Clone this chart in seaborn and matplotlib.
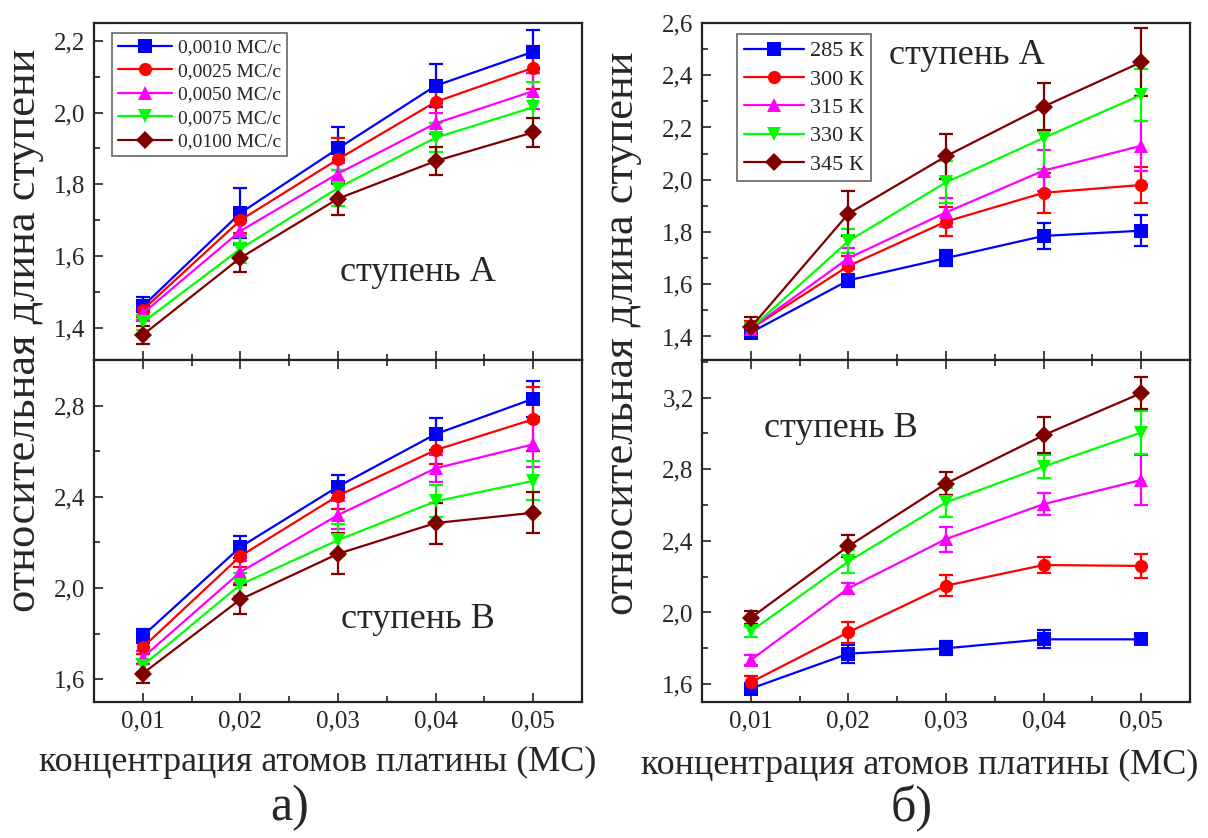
import numpy as np
import pandas as pd
import matplotlib
matplotlib.use("Agg")
import matplotlib.pyplot as plt
from matplotlib.ticker import MultipleLocator, FuncFormatter
import seaborn as sns

# Pt concentration, ML
conc = [0.01, 0.02, 0.03, 0.04, 0.05]

# (a) deposition rate series
rate_labels = ["0,0010 МС/с", "0,0025 МС/с", "0,0050 МС/с", "0,0075 МС/с", "0,0100 МС/с"]
rate_A = [
    [1.46, 1.72, 1.90, 2.075, 2.17],
    [1.45, 1.70, 1.87, 2.03, 2.125],
    [1.44, 1.67, 1.83, 1.97, 2.06],
    [1.415, 1.62, 1.79, 1.93, 2.015],
    [1.38, 1.595, 1.76, 1.865, 1.945],
]
rate_A_err = [
    [0.025, 0.07, 0.06, 0.06, 0.06],
    [0.02, 0.035, 0.06, 0.06, 0.06],
    [0.02, 0.04, 0.03, 0.03, 0.05],
    [0.02, 0.04, 0.05, 0.04, 0.07],
    [0.025, 0.04, 0.045, 0.04, 0.04],
]
rate_B = [
    [1.79, 2.18, 2.445, 2.675, 2.83],
    [1.74, 2.14, 2.405, 2.605, 2.74],
    [1.695, 2.07, 2.32, 2.525, 2.63],
    [1.66, 2.015, 2.21, 2.38, 2.47],
    [1.625, 1.95, 2.15, 2.285, 2.33],
]
rate_B_err = [
    [0.03, 0.05, 0.05, 0.07, 0.08],
    [0.03, 0.05, 0.06, 0.06, 0.14],
    [0.03, 0.05, 0.06, 0.06, 0.10],
    [0.03, 0.05, 0.07, 0.07, 0.085],
    [0.04, 0.065, 0.09, 0.09, 0.09],
]

# (б) temperature series
temp_labels = ["285 К", "300 К", "315 К", "330 К", "345 К"]
temp_A = [
    [1.415, 1.615, 1.70, 1.785, 1.805],
    [1.43, 1.67, 1.84, 1.95, 1.98],
    [1.43, 1.70, 1.875, 2.035, 2.13],
    [1.43, 1.765, 1.99, 2.16, 2.325],
    [1.435, 1.87, 2.09, 2.28, 2.45],
]
temp_A_err = [
    [0.015, 0.025, 0.03, 0.05, 0.06],
    [0.03, 0.04, 0.055, 0.077, 0.07],
    [0.02, 0.04, 0.055, 0.08, 0.095],
    [0.02, 0.047, 0.08, 0.12, 0.10],
    [0.04, 0.085, 0.087, 0.09, 0.13],
]
temp_B = [
    [1.575, 1.77, 1.80, 1.85, 1.85],
    [1.61, 1.89, 2.15, 2.265, 2.26],
    [1.735, 2.135, 2.41, 2.605, 2.74],
    [1.895, 2.285, 2.615, 2.815, 3.005],
    [1.97, 2.37, 2.72, 2.99, 3.225],
]
temp_B_err = [
    [0.02, 0.05, 0.04, 0.05, 0.01],
    [0.035, 0.058, 0.06, 0.047, 0.065],
    [0.03, 0.03, 0.07, 0.06, 0.14],
    [0.03, 0.065, 0.08, 0.065, 0.12],
    [0.037, 0.06, 0.065, 0.10, 0.088],
]

colors = ["#0000ff", "#ff0000", "#ff00ff", "#00ff00", "#800000"]
marker_list = ["s", "o", "^", "v", "D"]

sns.set_style("ticks")
plt.rcParams["font.family"] = ["Liberation Serif", "DejaVu Serif"]
plt.rcParams["axes.linewidth"] = 1.6
plt.rcParams["axes.edgecolor"] = "#222222"

fig = plt.figure(figsize=(12.08, 8.38), dpi=100)

L, W = 94 / 1208, 488 / 1208
R = 702 / 1208
top_b, top_h = 1 - 360 / 838, 337 / 838
bot_b, bot_h = 1 - 702 / 838, 342 / 838

ax_aA = fig.add_axes([L, top_b, W, top_h])
ax_aB = fig.add_axes([L, bot_b, W, bot_h])
ax_bA = fig.add_axes([R, top_b, W, top_h])
ax_bB = fig.add_axes([R, bot_b, W, bot_h])

comma = FuncFormatter(lambda v, p: f"{v:.1f}".replace(".", ","))
comma2 = FuncFormatter(lambda v, p: f"{v:.2f}".replace(".", ","))


def draw(ax, labels, vals, errs):
    rows = []
    for lab, ys in zip(labels, vals):
        for xv, yv in zip(conc, ys):
            rows.append({"x": xv, "y": yv, "series": lab})
    df = pd.DataFrame(rows)
    for lab, ys, es, c in zip(labels, vals, errs, colors):
        ax.errorbar(conc, ys, yerr=es, fmt="none", ecolor=c, elinewidth=1.6,
                    capsize=5, capthick=1.6, zorder=2)
    sns.lineplot(data=df, x="x", y="y", hue="series", style="series",
                 hue_order=labels, style_order=labels,
                 palette=colors, markers=marker_list, dashes=False,
                 markersize=9.5, markeredgewidth=0, linewidth=1.6,
                 ax=ax, zorder=3)
    ax.set_xlim(0.005, 0.055)
    ax.xaxis.set_major_locator(MultipleLocator(0.01))
    ax.xaxis.set_minor_locator(MultipleLocator(0.005))
    ax.xaxis.set_major_formatter(comma2)
    ax.yaxis.set_major_formatter(comma)
    ax.set_xlabel("")
    ax.set_ylabel("")
    ax.tick_params(which="both", direction="in", labelsize=18, color="#222222",
                   width=1.2)
    ax.tick_params(which="major", length=6.5, pad=6)
    ax.tick_params(which="minor", length=4)


draw(ax_aA, rate_labels, rate_A, rate_A_err)
draw(ax_aB, rate_labels, rate_B, rate_B_err)
draw(ax_bA, temp_labels, temp_A, temp_A_err)
draw(ax_bB, temp_labels, temp_B, temp_B_err)

for ax in (ax_aA, ax_bA):
    ax.tick_params(axis="x", which="both", labelbottom=False)
for ax in (ax_aB, ax_bB):
    ax.tick_params(axis="x", which="both", top=True)

ax_aA.set_ylim(1.31, 2.25)
ax_aA.yaxis.set_major_locator(MultipleLocator(0.2))
ax_aA.yaxis.set_minor_locator(MultipleLocator(0.1))
ax_aB.set_ylim(1.5, 3.0)
ax_aB.yaxis.set_major_locator(MultipleLocator(0.4))
ax_aB.yaxis.set_minor_locator(MultipleLocator(0.2))
ax_bA.set_ylim(1.31, 2.6)
ax_bA.yaxis.set_major_locator(MultipleLocator(0.2))
ax_bA.yaxis.set_minor_locator(MultipleLocator(0.1))
ax_bB.set_ylim(1.5, 3.41)
ax_bB.yaxis.set_major_locator(MultipleLocator(0.4))
ax_bB.yaxis.set_minor_locator(MultipleLocator(0.2))

# legends
for ax, anchor, fs, hl, sp in ((ax_aA, (0.037, 0.970), 14, 2.8, 0.3),
                               (ax_bA, (0.072, 0.967), 16, 2.7, 0.35)):
    h, l = ax.get_legend_handles_labels()
    leg = ax.legend(h, l, loc="upper left", bbox_to_anchor=anchor,
                    borderaxespad=0, fontsize=fs, handlelength=hl,
                    labelspacing=sp, handletextpad=0.3, borderpad=0.3,
                    fancybox=False, framealpha=1, edgecolor="#666666")
    leg.get_frame().set_linewidth(1.2)
for ax in (ax_aB, ax_bB):
    if ax.get_legend():
        ax.get_legend().remove()

# panel captions
cap_fs = 26
ax_aA.text(0.664, 0.261, "ступень А", transform=ax_aA.transAxes, fontsize=cap_fs,
           ha="center", va="center")
ax_aB.text(0.664, 0.24, "ступень В", transform=ax_aB.transAxes, fontsize=cap_fs,
           ha="center", va="center")
ax_bA.text(0.543, 0.905, "ступень А", transform=ax_bA.transAxes, fontsize=cap_fs,
           ha="center", va="center")
ax_bB.text(0.284, 0.80, "ступень В", transform=ax_bB.transAxes, fontsize=cap_fs,
           ha="center", va="center")

ylab = "относительная длина ступени"
xlab = "концентрация атомов платины (МС)"
fig.text(24 / 1208, 1 - 330 / 838, ylab, rotation=90, fontsize=32,
         ha="center", va="center")
fig.text(622 / 1208, 1 - 333 / 838, ylab, rotation=90, fontsize=32,
         ha="center", va="center")
fig.text(318 / 1208, 1 - 762 / 838, xlab, fontsize=26, ha="center", va="center")
fig.text(920 / 1208, 1 - 765 / 838, xlab, fontsize=26, ha="center", va="center")
fig.text(290 / 1208, 1 - 808 / 838, "а)", fontsize=36, ha="center", va="center")
fig.text(912 / 1208, 1 - 808 / 838, "б)", fontsize=36, ha="center", va="center")

fig.savefig("out.png", dpi=100, facecolor="white")
